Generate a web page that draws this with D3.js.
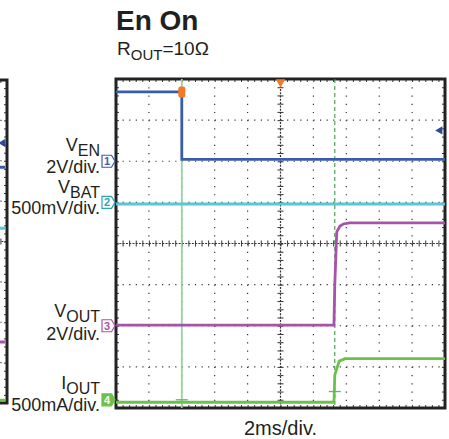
<!DOCTYPE html>
<html>
<head>
<meta charset="utf-8">
<script src="https://cdn.jsdelivr.net/npm/d3@7"></script>
<style>
body { margin: 0; background: #fff; }
text { font-family: "Liberation Sans", Arial, sans-serif; fill: #231f20; }
</style>
</head>
<body>
<svg id="scope" width="449" height="439"></svg>
<script>
// time in ms (2 ms/div, 10 div), vertical in divisions (8 div)
const timeDomain = [-10, 10]
const divDomain = [-4, 4]

// channels: ground marker position (div), scale (units/div), offset
const chNames = ['1', '2', '3', '4']
const chPos = [2, 1, -2, -3.8]
const chScale = [2, 0.5, 2, 0.5]
const chOffset = [0, 3.6, 0, 0]
const chColor = ['#3b5cab', '#5cc6d6', '#a653a8', '#6cc04c']

// traces
const venT = [-10, -6, -6, 10]
const venV = [3.37, 3.37, 0.09, 0.09]
const vbatT = [-10, 10]
const vbatV = [3.58, 3.58]
const voutT = [-10, 3.25, 3.3, 3.42, 3.62, 3.82, 4.2, 10]
const voutV = [0.03, 0.03, 2.0, 4.57, 4.85, 4.95, 5.0, 5.0]
const ioutT = [-10, 3.25, 3.3, 3.57, 3.92, 10]
const ioutV = [-0.03, -0.03, 0.3, 0.47, 0.5, 0.5]

// cursors and trigger
const cursorA = -6
const cursorB = 3.3
const cursorIout = [0.0, 0.1]
const trigTime = 0
const trigLevel = 1.5

// previous panel (cut off at left edge), trace levels in div
const prevLevels = [1.84, 0.33, -2.49, -3.93]
const prevArrow = 2.44

const svg = d3.select('#scope')

const x = d3.scaleLinear().domain(timeDomain).range([116, 445])
const y = d3.scaleLinear().domain(divDomain).range([408, 79])

const xPrev = d3.scaleLinear().domain(timeDomain).range([7 - 329, 7])
const yPrev = d3.scaleLinear().domain(divDomain).range([403, 80])

function toDiv(ch, v) {
	return chPos[ch] + (v - chOffset[ch]) / chScale[ch]
}

function drawGrid(g, xs, ys) {
	const divW = xs(2) - xs(0)
	const divH = ys(0) - ys(1)
	const [x0, x1] = xs.range()
	const [y0, y1] = ys.range()
	// dotted grid lines
	g.selectAll('.hgrid').data(d3.range(-3, 4)).enter().append('line')
		.attr('x1', x0).attr('x2', x1)
		.attr('y1', (d) => ys(d)).attr('y2', (d) => ys(d))
		.attr('stroke', '#333').attr('stroke-width', 1.2)
		.attr('stroke-dasharray', (d) => d === 0 ? '2,1.3' : '1.2,' + (divW / 5 - 1.2))
	g.selectAll('.vgrid').data(d3.range(-8, 10, 2)).enter().append('line')
		.attr('y1', y1).attr('y2', y0)
		.attr('x1', (d) => xs(d)).attr('x2', (d) => xs(d))
		.attr('stroke', '#333').attr('stroke-width', 1.2)
		.attr('stroke-dasharray', (d) => d === 0 ? '2,1.3' : '1.2,' + (divH / 5 - 1.2))

	// minor ticks along centre lines and frame edges
	const xMinor = d3.range(-10, 10.01, 0.4)
	const yMinor = d3.range(-4, 4.01, 0.2)
	g.append('g').attr('transform', `translate(0,${ys(0)})`)
		.call(d3.axisBottom(xs).tickValues(xMinor).tickSize(3).tickFormat(''))
	g.append('g').attr('transform', `translate(0,${ys(0)})`)
		.call(d3.axisTop(xs).tickValues(xMinor).tickSize(3).tickFormat(''))
	g.append('g').attr('transform', `translate(${xs(0)},0)`)
		.call(d3.axisLeft(ys).tickValues(yMinor).tickSize(3).tickFormat(''))
	g.append('g').attr('transform', `translate(${xs(0)},0)`)
		.call(d3.axisRight(ys).tickValues(yMinor).tickSize(3).tickFormat(''))
	g.append('g').attr('transform', `translate(0,${y1})`)
		.call(d3.axisBottom(xs).tickValues(xMinor).tickSize(3).tickFormat(''))
	g.append('g').attr('transform', `translate(0,${y0})`)
		.call(d3.axisTop(xs).tickValues(xMinor).tickSize(3).tickFormat(''))
	g.append('g').attr('transform', `translate(${x0},0)`)
		.call(d3.axisRight(ys).tickValues(yMinor).tickSize(3).tickFormat(''))
	g.append('g').attr('transform', `translate(${x1},0)`)
		.call(d3.axisLeft(ys).tickValues(yMinor).tickSize(3).tickFormat(''))
	g.selectAll('.domain').remove()
	g.selectAll('.tick line').attr('stroke', '#333').attr('stroke-width', 1)

	// frame
	g.append('rect')
		.attr('x', x0).attr('y', y1)
		.attr('width', x1 - x0).attr('height', y0 - y1)
		.attr('fill', 'none').attr('stroke', '#222').attr('stroke-width', 3)
}

// previous panel
const gPrev = svg.append('g')
drawGrid(gPrev, xPrev, yPrev)
gPrev.selectAll('.prevtrace').data(prevLevels).enter().append('line')
	.attr('x1', xPrev(6)).attr('x2', xPrev(10) - 2)
	.attr('y1', (d) => yPrev(d)).attr('y2', (d) => yPrev(d))
	.attr('stroke', (d, i) => chColor[i]).attr('stroke-width', 3)
gPrev.append('path')
	.attr('d', d3.symbol(d3.symbolTriangle, 30)())
	.attr('transform', `translate(${xPrev(10) - 4},${yPrev(prevArrow)}) rotate(-90)`)
	.attr('fill', '#2a4a9a')

// main panel
const g = svg.append('g')
drawGrid(g, x, y)

// cursors
g.append('line')
	.attr('x1', x(cursorA)).attr('x2', x(cursorA))
	.attr('y1', y(4)).attr('y2', y(-4))
	.attr('stroke', '#95d6a0').attr('stroke-width', 1.8)
g.append('line')
	.attr('x1', x(cursorB)).attr('x2', x(cursorB))
	.attr('y1', y(4)).attr('y2', y(-4))
	.attr('stroke', '#3f9a4c').attr('stroke-width', 1.1)
	.attr('stroke-dasharray', '4,3')

// traces
const traces = [[venT, venV], [vbatT, vbatV], [voutT, voutV], [ioutT, ioutV]]
const line = d3.line()
traces.forEach(([ts, vs], ch) => {
	const pts = ts.map((t, i) => [x(t), y(toDiv(ch, vs[i]))])
	g.append('path')
		.attr('d', line(pts))
		.attr('fill', 'none')
		.attr('stroke', chColor[ch])
		.attr('stroke-width', 2.8)
})

// cursor crossing marks on IOUT
g.selectAll('.cross').data([cursorA, cursorB]).enter().append('line')
	.attr('x1', (d) => x(d) - 6).attr('x2', (d) => x(d) + 6)
	.attr('y1', (d, i) => y(toDiv(3, cursorIout[i])))
	.attr('y2', (d, i) => y(toDiv(3, cursorIout[i])))
	.attr('stroke', '#5fb85f').attr('stroke-width', 1.3)

// trigger markers
g.append('path')
	.attr('d', d3.symbol(d3.symbolTriangle, 40)())
	.attr('transform', `translate(${x(trigTime)},${y(4) + 3}) rotate(180)`)
	.attr('fill', '#f07a28')
g.append('rect')
	.attr('x', x(cursorA) - 3.5).attr('y', y(toDiv(0, venV[0])) - 5.5)
	.attr('width', 7).attr('height', 11).attr('rx', 2)
	.attr('fill', '#f07a28')
g.append('path')
	.attr('d', d3.symbol(d3.symbolTriangle, 30)())
	.attr('transform', `translate(${x(10) - 5},${y(toDiv(0, trigLevel))}) rotate(-90)`)
	.attr('fill', '#2a4a9a')

// channel markers
const marker = svg.selectAll('.chmark').data(chNames).enter().append('g')
	.attr('transform', (d, i) => `translate(${x(-10) - 1},${y(chPos[i])})`)
marker.append('path')
	.attr('d', 'M-13,-6 L-3.5,-6 L0,0 L-3.5,6 L-13,6 Z')
	.attr('fill', (d, i) => i === 3 ? chColor[i] : '#fff')
	.attr('stroke', (d, i) => i === 1 ? '#2aa8b0' : chColor[i])
	.attr('stroke-width', 1.2)
marker.append('text')
	.attr('x', -8).attr('y', 4)
	.attr('text-anchor', 'middle')
	.style('font-size', '11px')
	.style('font-weight', 'bold')
	.style('fill', (d, i) => i === 3 ? '#fff' : (i === 1 ? '#2aa8b0' : chColor[i]))
	.text((d) => d)

// channel labels
const labels = [
	{main: 'V', sub: 'EN', scale: '2V/div.', y1: 151, y2: 173},
	{main: 'V', sub: 'BAT', scale: '500mV/div.', y1: 193, y2: 214},
	{main: 'V', sub: 'OUT', scale: '2V/div.', y1: 317, y2: 340},
	{main: 'I', sub: 'OUT', scale: '500mA/div.', y1: 389, y2: 411}
]
labels.forEach((l) => {
	const t = svg.append('text')
		.attr('x', 100).attr('y', l.y1)
		.attr('text-anchor', 'end')
		.style('font-size', '18px')
	t.append('tspan').text(l.main)
	t.append('tspan').attr('dy', 5).style('font-size', '16px').text(l.sub)
	svg.append('text')
		.attr('x', 100).attr('y', l.y2)
		.attr('text-anchor', 'end')
		.style('font-size', '18px')
		.text(l.scale)
})

// titles
svg.append('text')
	.attr('x', 116).attr('y', 30)
	.style('font-size', '28px').style('font-weight', 'bold')
	.text('En On')
const sub = svg.append('text')
	.attr('x', 117).attr('y', 55)
	.style('font-size', '19px')
sub.append('tspan').text('R')
sub.append('tspan').attr('dy', 5).style('font-size', '15px').text('OUT')
sub.append('tspan').attr('dy', -5).text('=10Ω')

svg.append('text')
	.attr('x', x(0)).attr('y', 435)
	.attr('text-anchor', 'middle')
	.style('font-size', '20px')
	.text('2ms/div.')
</script>
</body>
</html>
